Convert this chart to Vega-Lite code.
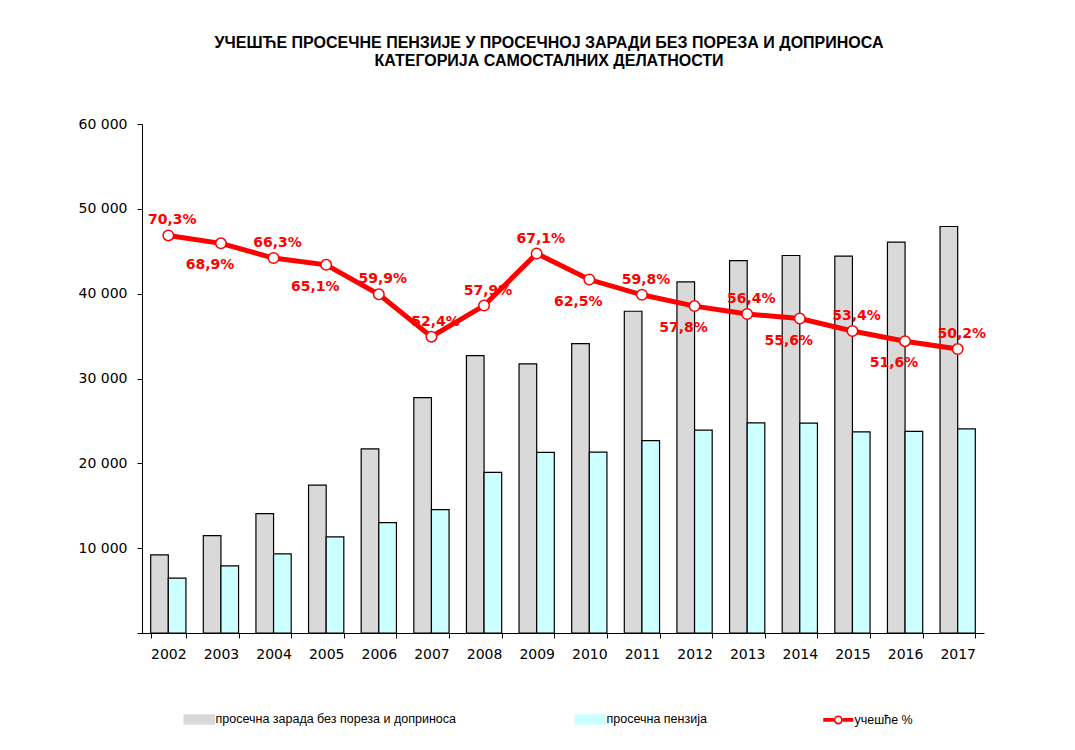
{
  "$schema": "https://vega.github.io/schema/vega-lite/v6.json",
  "autosize": "none",
  "width": 842,
  "height": 509,
  "padding": {"left": 142, "top": 124, "right": 91, "bottom": 117},
  "background": "white",
  "title": {
    "text": ["УЧЕШЋЕ ПРОСЕЧНЕ ПЕНЗИЈЕ У ПРОСЕЧНОЈ ЗАРАДИ БЕЗ ПОРЕЗА И ДОПРИНОСА", "КАТЕГОРИЈА САМОСТАЛНИХ ДЕЛАТНОСТИ"],
    "font": "Liberation Sans",
    "fontSize": 16,
    "fontWeight": "bold",
    "color": "#000000",
    "lineHeight": 18,
    "anchor": "middle",
    "frame": "group",
    "dx": -14,
    "offset": 48
  },
  "config": {
    "locale": {"number": {"decimal": ",", "thousands": " ", "grouping": [3], "currency": ["", ""]}},
    "view": {"stroke": null},
    "axis": {"grid": false, "domainColor": "#000000", "tickColor": "#000000", "labelColor": "#000000", "labelFont": "DejaVu Sans", "labelFontSize": 14, "tickSize": 5, "domainWidth": 1, "tickWidth": 1}
  },
  "data": {
    "values": [
      {"year": "2002", "zarada": 9200, "penzija": 6470, "pct": 0.703},
      {"year": "2003", "zarada": 11480, "penzija": 7910, "pct": 0.689},
      {"year": "2004", "zarada": 14070, "penzija": 9330, "pct": 0.663},
      {"year": "2005", "zarada": 17420, "penzija": 11340, "pct": 0.651},
      {"year": "2006", "zarada": 21700, "penzija": 13000, "pct": 0.599},
      {"year": "2007", "zarada": 27750, "penzija": 14540, "pct": 0.524},
      {"year": "2008", "zarada": 32700, "penzija": 18930, "pct": 0.579},
      {"year": "2009", "zarada": 31720, "penzija": 21280, "pct": 0.671},
      {"year": "2010", "zarada": 34120, "penzija": 21330, "pct": 0.625},
      {"year": "2011", "zarada": 37930, "penzija": 22680, "pct": 0.598},
      {"year": "2012", "zarada": 41390, "penzija": 23920, "pct": 0.578},
      {"year": "2013", "zarada": 43900, "penzija": 24760, "pct": 0.564},
      {"year": "2014", "zarada": 44500, "penzija": 24740, "pct": 0.556},
      {"year": "2015", "zarada": 44420, "penzija": 23720, "pct": 0.534},
      {"year": "2016", "zarada": 46070, "penzija": 23770, "pct": 0.516},
      {"year": "2017", "zarada": 47920, "penzija": 24060, "pct": 0.502}
    ]
  },
  "encoding": {
    "x": {
      "field": "year",
      "type": "nominal",
      "scale": {"paddingInner": 0.33, "paddingOuter": 0.165},
      "axis": {"title": null, "labelAngle": 0, "tickBand": "extent", "labelPadding": 9}
    }
  },
  "layer": [
    {
      "transform": [
        {"fold": ["zarada", "penzija"], "as": ["key", "value"]},
        {"calculate": "datum.key === 'zarada' ? 'просечна зарада без пореза и доприноса' : 'просечна пензија'", "as": "series"}
      ],
      "mark": {"type": "bar", "stroke": "#000000", "strokeWidth": 1.2, "opacity": 1},
      "encoding": {
        "xOffset": {"field": "series", "type": "nominal", "scale": {"domain": ["просечна зарада без пореза и доприноса", "просечна пензија"], "paddingInner": 0, "paddingOuter": 0}},
        "y": {
          "field": "value",
          "type": "quantitative",
          "scale": {"domain": [0, 60000], "nice": false},
          "axis": {"title": null, "values": [0, 10000, 20000, 30000, 40000, 50000, 60000], "format": ",d", "labelExpr": "datum.value === 0 ? '' : datum.label", "labelPadding": 10}
        },
        "color": {
          "field": "series",
          "type": "nominal",
          "scale": {"domain": ["просечна зарада без пореза и доприноса", "просечна пензија", "учешће %"], "range": ["#D9D9D9", "#CCFFFF", "#FF0000"]},
          "legend": {
            "title": null,
            "orient": "none",
            "legendX": 51,
            "legendY": 589,
            "direction": "horizontal",
            "columnPadding": 116,
            "labelFont": "Liberation Sans",
            "labelFontSize": 12.5,
            "labelColor": "#000000",
            "labelOffset": 10,
            "labelLimit": 400,
            "symbolSize": 900,
            "symbolOpacity": 1,
            "symbolType": {"expr": "datum.value === 'учешће %' ? 'M-1,-0.12H-0.3V0.12H-1Z M0.3,-0.12H1V0.12H0.3Z M0.3,0A0.3,0.3 0 1,1 -0.3,0A0.3,0.3 0 1,1 0.3,0Z M0.19,0A0.19,0.19 0 1,0 -0.19,0A0.19,0.19 0 1,0 0.19,0Z' : 'M-1,-0.3H1V0.3H-1Z'"},
            "symbolStrokeColor": {"expr": "datum.value === 'учешће %' ? '#FF0000' : '#000000'"},
            "symbolStrokeWidth": {"expr": "datum.value === 'учешће %' ? 0 : 1.5"}
          }
        }
      }
    },
    {
      "encoding": {
        "y": {"field": "pct", "type": "quantitative", "scale": {"domain": [0, 0.9], "nice": false}, "axis": null}
      },
      "layer": [
        {
          "mark": {"type": "line", "strokeWidth": 5},
          "encoding": {"color": {"datum": "учешће %", "legend": null}}
        },
        {
          "mark": {"type": "point", "filled": true, "fill": "#FFFFFF", "stroke": "#FF0000", "strokeWidth": 1.5, "size": 110, "opacity": 1, "shape": "circle"}
        },
        {
          "transform": [{"filter": {"field": "year", "oneOf": ["2002", "2004", "2006", "2007", "2008", "2009", "2011", "2013", "2015", "2017"]}}],
          "mark": {"type": "text", "font": "DejaVu Sans", "fontSize": 14, "fontWeight": "bold", "fill": "#FF0000", "baseline": "middle", "align": "center", "dx": 4, "dy": -15},
          "encoding": {"text": {"field": "pct", "type": "quantitative", "format": ".1%"}}
        },
        {
          "transform": [{"filter": {"not": {"field": "year", "oneOf": ["2002", "2004", "2006", "2007", "2008", "2009", "2011", "2013", "2015", "2017"]}}}],
          "mark": {"type": "text", "font": "DejaVu Sans", "fontSize": 14, "fontWeight": "bold", "fill": "#FF0000", "baseline": "middle", "align": "center", "dx": -11, "dy": 22},
          "encoding": {"text": {"field": "pct", "type": "quantitative", "format": ".1%"}}
        }
      ]
    }
  ],
  "resolve": {"scale": {"y": "independent"}}
}
